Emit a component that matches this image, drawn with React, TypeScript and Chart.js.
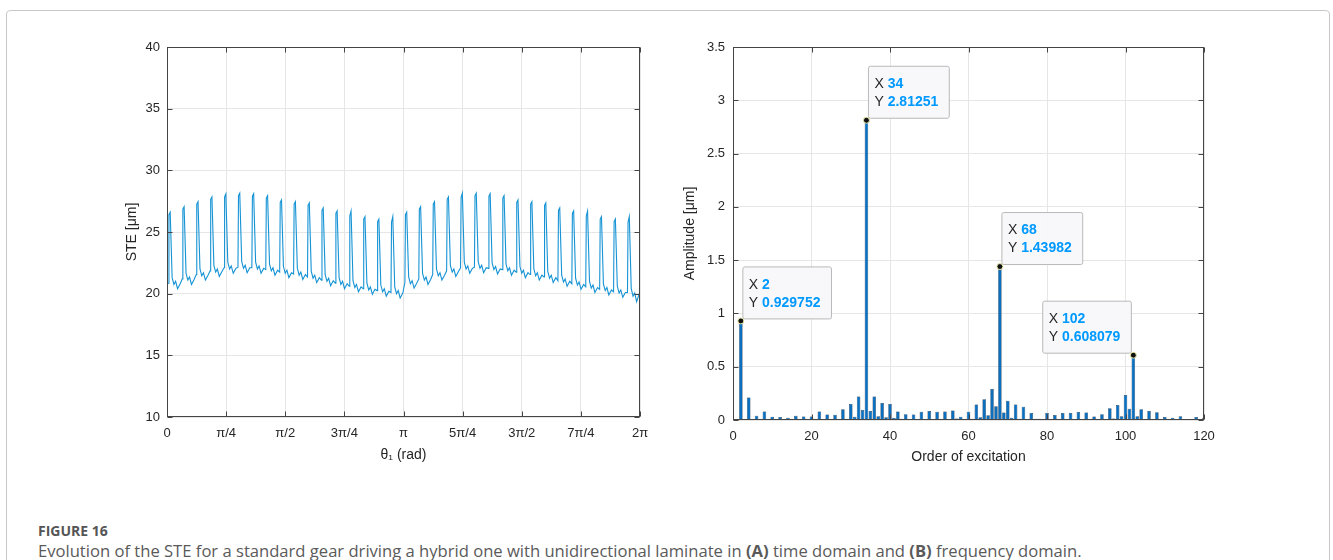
import React, { useEffect, useRef } from 'react';
import { Chart, registerables } from 'chart.js';

Chart.register(...registerables);

// ---------- (A) STE in time domain ----------
const TEETH = 34;
const toothStartOffset = 0.1; // fraction of a tooth pitch where the first mesh rise occurs
// sample positions inside one tooth pitch (fraction of pitch)
const toothPhase = [0, 0.04, 0.13, 0.27, 0.4, 0.52, 0.66, 0.85];
const steStart = 20.8;
const steEnd = 19.95;
// per tooth: [rise start, peak a, peak b, after fall, dip, bump, min, pre-rise]  (µm)
const steTeeth: number[][] = [
  [20.85, 26.4, 26.6, 21.3, 20.75, 21.0, 20.4, 20.8],
  [21.2, 26.85, 27.05, 21.65, 21.1, 21.35, 20.75, 21.15],
  [21.55, 27.25, 27.45, 22.0, 21.45, 21.7, 21.1, 21.5],
  [21.85, 27.65, 27.85, 22.3, 21.75, 22.0, 21.4, 21.8],
  [22.1, 27.85, 28.1, 22.55, 22.0, 22.25, 21.65, 22.05],
  [22.15, 27.95, 28.15, 22.6, 22.05, 22.3, 21.7, 22.1],
  [22.1, 27.9, 28.1, 22.55, 22.0, 22.25, 21.65, 22.05],
  [21.95, 27.75, 27.95, 22.4, 21.85, 22.1, 21.5, 21.9],
  [21.75, 27.4, 27.6, 22.2, 21.65, 21.9, 21.3, 21.7],
  [21.6, 27.25, 27.45, 22.05, 21.5, 21.75, 21.15, 21.55],
  [21.35, 27.15, 27.35, 21.8, 21.25, 21.5, 20.9, 21.3],
  [21.1, 26.75, 26.95, 21.55, 21.0, 21.25, 20.65, 21.05],
  [20.85, 26.5, 26.7, 21.3, 20.75, 21.0, 20.4, 20.8],
  [20.6, 26.3, 26.7, 21.05, 20.5, 20.75, 20.15, 20.55],
  [20.4, 26.05, 26.25, 20.85, 20.3, 20.55, 19.95, 20.35],
  [20.25, 25.85, 26.05, 20.7, 20.15, 20.4, 19.8, 20.2],
  [20.1, 25.8, 26.25, 20.55, 20.0, 20.25, 19.65, 20.05],
  [20.9, 26.4, 26.6, 21.35, 20.8, 21.05, 20.45, 20.85],
  [21.2, 26.85, 27.05, 21.65, 21.1, 21.35, 20.75, 21.15],
  [21.55, 27.25, 27.45, 22.0, 21.45, 21.7, 21.1, 21.5],
  [21.85, 27.65, 27.85, 22.3, 21.75, 22.0, 21.4, 21.8],
  [22.1, 27.8, 28.15, 22.55, 22.0, 22.25, 21.65, 22.05],
  [22.15, 27.95, 28.15, 22.6, 22.05, 22.3, 21.7, 22.1],
  [22.05, 27.9, 28.1, 22.5, 21.95, 22.2, 21.6, 22.0],
  [21.95, 27.75, 27.95, 22.4, 21.85, 22.1, 21.5, 21.9],
  [21.75, 27.4, 27.6, 22.2, 21.65, 21.9, 21.3, 21.7],
  [21.55, 27.25, 27.45, 22.0, 21.45, 21.7, 21.1, 21.5],
  [21.35, 27.15, 27.35, 21.8, 21.25, 21.5, 20.9, 21.3],
  [21.05, 26.75, 26.95, 21.5, 20.95, 21.2, 20.6, 21.0],
  [20.8, 26.5, 26.7, 21.25, 20.7, 20.95, 20.35, 20.75],
  [20.55, 26.3, 26.7, 21.0, 20.45, 20.7, 20.1, 20.5],
  [20.35, 26.05, 26.25, 20.8, 20.25, 20.5, 19.9, 20.3],
  [20.15, 25.85, 26.05, 20.6, 20.05, 20.3, 19.7, 20.1],
  [20.1, 25.8, 26.25, 20.4, 19.8, 20.05, 19.35, 20.0],
];
const piTickLabels = ['0', 'π/4', 'π/2', '3π/4', 'π', '5π/4', '3π/2', '7π/4', '2π'];
const steYTicks = [10, 15, 20, 25, 30, 35, 40];

// ---------- (B) spectrum ----------
const orders: number[] = Array.from({ length: 120 }, (_, i) => i + 1);
const amplitudes: number[] = [
  0.005, 0.929752, 0.005, 0.21, 0.005, 0.04, 0.005, 0.08, 0.005, 0.03,
  0.005, 0.028, 0.004, 0.02, 0.004, 0.04, 0.004, 0.032, 0.005, 0.032,
  0.005, 0.08, 0.006, 0.052, 0.006, 0.05, 0.008, 0.1, 0.012, 0.15,
  0.03, 0.22, 0.095, 2.81251, 0.085, 0.22, 0.035, 0.16, 0.025, 0.15,
  0.02, 0.08, 0.012, 0.055, 0.008, 0.052, 0.006, 0.078, 0.006, 0.085,
  0.006, 0.078, 0.006, 0.08, 0.006, 0.088, 0.015, 0.03, 0.01, 0.078,
  0.012, 0.145, 0.025, 0.195, 0.045, 0.29, 0.13, 1.43982, 0.07, 0.18,
  0.02, 0.145, 0.012, 0.125, 0.008, 0.066, 0.012, 0.012, 0.005, 0.066,
  0.005, 0.048, 0.005, 0.066, 0.005, 0.066, 0.006, 0.076, 0.006, 0.07,
  0.006, 0.033, 0.005, 0.053, 0.008, 0.11, 0.015, 0.14, 0.035, 0.235,
  0.105, 0.608079, 0.035, 0.1, 0.008, 0.085, 0.006, 0.072, 0.005, 0.027,
  0.004, 0.02, 0.004, 0.036, 0.004, 0.01, 0.004, 0.027, 0.004, 0.02,
];
const ampYTicks = [0, 0.5, 1, 1.5, 2, 2.5, 3, 3.5];
const tipOrders = [2, 34, 68, 102];
const tipSides = ['right', 'right', 'right', 'left'];

const FONT = "'Liberation Sans', Arial, Helvetica, sans-serif";
const AXIS_TEXT = '#262626';
const GRID = '#e6e6e6';
const BOX = '#454545';

const axesBoxPlugin = {
  id: 'axesBox',
  afterDatasetsDraw(chart: any) {
    const { ctx, chartArea } = chart;
    const { left, right, top, bottom } = chartArea;
    const xs = chart.scales.x;
    const ys = chart.scales.y;
    ctx.save();
    ctx.strokeStyle = BOX;
    ctx.lineWidth = 1;
    const L = Math.round(left) + 0.5;
    const R = Math.round(right) - 0.5;
    const T = Math.round(top) + 0.5;
    const B = Math.round(bottom) - 0.5;
    ctx.strokeRect(L, T, R - L, B - T);
    ctx.beginPath();
    xs.ticks.forEach((t: any) => {
      const px = Math.round(xs.getPixelForValue(t.value)) + 0.5;
      ctx.moveTo(px, B); ctx.lineTo(px, B - 5);
      ctx.moveTo(px, T); ctx.lineTo(px, T + 5);
    });
    ys.ticks.forEach((t: any) => {
      const py = Math.round(ys.getPixelForValue(t.value)) + 0.5;
      ctx.moveTo(L, py); ctx.lineTo(L + 5, py);
      ctx.moveTo(R, py); ctx.lineTo(R - 5, py);
    });
    ctx.stroke();
    ctx.restore();
  },
};

const dataTipPlugin = {
  id: 'dataTips',
  afterDatasetsDraw(chart: any) {
    const { ctx } = chart;
    const xs = chart.scales.x;
    const ys = chart.scales.y;
    ctx.save();
    tipOrders.forEach((o, i) => {
      const val = amplitudes[orders.indexOf(o)];
      const px = xs.getPixelForValue(o);
      const py = ys.getPixelForValue(val);
      const lx = 'X ';
      const ly = 'Y ';
      const vx = String(o);
      const vy = String(val);
      ctx.font = `14px ${FONT}`;
      const wLx = ctx.measureText(lx).width;
      const wLy = ctx.measureText(ly).width;
      ctx.font = `bold 14px ${FONT}`;
      const wVx = ctx.measureText(vx).width;
      const wVy = ctx.measureText(vy).width;
      const w = 6 + Math.max(wLx + wVx, wLy + wVy) + 11;
      const h = 52;
      const bx = tipSides[i] === 'right' ? px + 2 : px - 2 - w;
      const by = py - 2 - h;
      ctx.beginPath();
      const r = 2;
      ctx.moveTo(bx + r, by);
      ctx.lineTo(bx + w - r, by);
      ctx.quadraticCurveTo(bx + w, by, bx + w, by + r);
      ctx.lineTo(bx + w, by + h - r);
      ctx.quadraticCurveTo(bx + w, by + h, bx + w - r, by + h);
      ctx.lineTo(bx + r, by + h);
      ctx.quadraticCurveTo(bx, by + h, bx, by + h - r);
      ctx.lineTo(bx, by + r);
      ctx.quadraticCurveTo(bx, by, bx + r, by);
      ctx.closePath();
      ctx.fillStyle = 'rgba(248,248,251,0.95)';
      ctx.fill();
      ctx.strokeStyle = '#b9b9b9';
      ctx.lineWidth = 1;
      ctx.stroke();
      ctx.textBaseline = 'middle';
      ctx.textAlign = 'left';
      const tx = bx + 6;
      ctx.font = `14px ${FONT}`;
      ctx.fillStyle = AXIS_TEXT;
      ctx.fillText(lx, tx, by + 18);
      ctx.fillText(ly, tx, by + 36);
      ctx.font = `bold 14px ${FONT}`;
      ctx.fillStyle = '#0099ff';
      ctx.fillText(vx, tx + wLx, by + 18);
      ctx.fillText(vy, tx + wLy, by + 36);
      // marker
      ctx.beginPath();
      ctx.arc(px, py, 3, 0, Math.PI * 2);
      ctx.fillStyle = '#111111';
      ctx.fill();
      ctx.strokeStyle = '#eeeeb0';
      ctx.lineWidth = 1;
      ctx.stroke();
    });
    ctx.restore();
  },
};

const tickFont = { family: FONT, size: 13 };
const titleFont = { family: FONT, size: 14 };

export default function App() {
  const leftRef = useRef<HTMLCanvasElement>(null);
  const rightRef = useRef<HTMLCanvasElement>(null);

  useEffect(() => {
    const TWO_PI = 2 * Math.PI;
    const pitch = TWO_PI / TEETH;
    const stePoints: { x: number; y: number }[] = [{ x: 0, y: steStart }];
    steTeeth.forEach((row, k) => {
      row.forEach((v, j) => {
        const x = (k + toothStartOffset + toothPhase[j]) * pitch;
        if (x <= TWO_PI) stePoints.push({ x, y: v });
      });
    });
    stePoints.push({ x: TWO_PI, y: steEnd });
    const piTickValues = piTickLabels.map((_, k) => (k * Math.PI) / 4);

    const left = new Chart(leftRef.current as HTMLCanvasElement, {
      type: 'line',
      data: {
        datasets: [
          {
            data: stePoints,
            borderColor: '#1593d4',
            borderWidth: 1.1,
            pointRadius: 0,
            tension: 0,
            fill: false,
          },
        ],
      },
      options: {
        animation: false,
        responsive: false,
        layout: { padding: { top: 17, right: 20, left: 0, bottom: 0 } },
        plugins: { legend: { display: false }, tooltip: { enabled: false } },
        scales: {
          x: {
            type: 'linear',
            min: 0,
            max: TWO_PI,
            afterBuildTicks: (s: any) => {
              s.ticks = piTickValues.map((v) => ({ value: v }));
            },
            afterFit: (s: any) => {
              s.height = 53;
            },
            grid: { color: GRID, drawTicks: false },
            border: { display: false },
            ticks: {
              padding: 9,
              color: AXIS_TEXT,
              font: tickFont,
              maxRotation: 0,
              autoSkip: false,
              callback: (_v: any, i: number) => piTickLabels[i],
            },
            title: {
              display: true,
              text: 'θ₁ (rad)',
              color: AXIS_TEXT,
              font: titleFont,
              padding: { top: 0, bottom: 6 },
            },
          },
          y: {
            type: 'linear',
            min: 10,
            max: 40,
            afterBuildTicks: (s: any) => {
              s.ticks = steYTicks.map((v) => ({ value: v }));
            },
            afterFit: (s: any) => {
              s.width = 77;
            },
            grid: { color: GRID, drawTicks: false },
            border: { display: false },
            ticks: { padding: 7, color: AXIS_TEXT, font: tickFont, callback: (v: any) => String(v) },
            title: {
              display: true,
              text: 'STE [μm]',
              color: AXIS_TEXT,
              font: titleFont,
              padding: { top: 34, bottom: 0 },
            },
          },
        },
      },
      plugins: [axesBoxPlugin],
    } as any);

    const right = new Chart(rightRef.current as HTMLCanvasElement, {
      type: 'bar',
      data: {
        datasets: [
          {
            data: orders.map((o, i) => ({ x: o, y: amplitudes[i] })),
            backgroundColor: '#0a6fbf',
            borderColor: '#0a1c30',
            borderWidth: 0.5,
            barPercentage: 0.9,
            categoryPercentage: 1,
          },
        ],
      },
      options: {
        animation: false,
        responsive: false,
        layout: { padding: { top: 17, right: 26, left: 0, bottom: 0 } },
        plugins: { legend: { display: false }, tooltip: { enabled: false } },
        scales: {
          x: {
            type: 'linear',
            min: 0,
            max: 120,
            offset: false,
            ticks: {
              stepSize: 20,
              padding: 9,
              color: AXIS_TEXT,
              font: tickFont,
              maxRotation: 0,
            },
            afterFit: (s: any) => {
              s.height = 50;
            },
            grid: { color: GRID, drawTicks: false, offset: false },
            border: { display: false },
            title: {
              display: true,
              text: 'Order of excitation',
              color: AXIS_TEXT,
              font: titleFont,
              padding: { top: 0, bottom: 4 },
            },
          },
          y: {
            type: 'linear',
            min: 0,
            max: 3.5,
            afterBuildTicks: (s: any) => {
              s.ticks = ampYTicks.map((v) => ({ value: v }));
            },
            ticks: { padding: 8, color: AXIS_TEXT, font: tickFont, callback: (v: any) => String(v) },
            afterFit: (s: any) => {
              s.width = 73;
            },
            grid: { color: GRID, drawTicks: false },
            border: { display: false },
            title: {
              display: true,
              text: 'Amplitude [μm]',
              color: AXIS_TEXT,
              font: titleFont,
              padding: { top: 22, bottom: 0 },
            },
          },
        },
      },
      plugins: [axesBoxPlugin, dataTipPlugin],
    } as any);

    return () => {
      left.destroy();
      right.destroy();
    };
  }, []);

  const captionFont = "'Open Sans', 'Noto Sans', sans-serif";
  return (
    <div
      style={{
        position: 'absolute',
        left: 0,
        top: 0,
        width: 1333,
        height: 560,
        overflow: 'hidden',
        background: '#ffffff',
      }}
    >
      <div
        style={{
          position: 'absolute',
          left: 6,
          top: 10,
          width: 1324,
          height: 700,
          border: '1px solid #c8c8c8',
          borderRadius: 4,
          boxSizing: 'border-box',
        }}
      />
      <canvas
        ref={leftRef}
        width={570}
        height={440}
        style={{ position: 'absolute', left: 90, top: 30, width: 570, height: 440 }}
      />
      <canvas
        ref={rightRef}
        width={570}
        height={440}
        style={{ position: 'absolute', left: 660, top: 30, width: 570, height: 440 }}
      />
      <div
        style={{
          position: 'absolute',
          left: 38,
          top: 521,
          fontFamily: captionFont,
          fontSize: 14,
          fontWeight: 700,
          color: '#555555',
          lineHeight: '20px',
          whiteSpace: 'nowrap',
        }}
      >
        FIGURE 16
      </div>
      <div
        style={{
          position: 'absolute',
          left: 38,
          top: 540,
          fontFamily: captionFont,
          fontSize: 16.6,
          color: '#5a5a5a',
          lineHeight: '22px',
          whiteSpace: 'nowrap',
        }}
      >
        Evolution of the STE for a standard gear driving a hybrid one with unidirectional laminate in{' '}
        <b>(A)</b> time domain and <b>(B)</b> frequency domain.
      </div>
    </div>
  );
}
